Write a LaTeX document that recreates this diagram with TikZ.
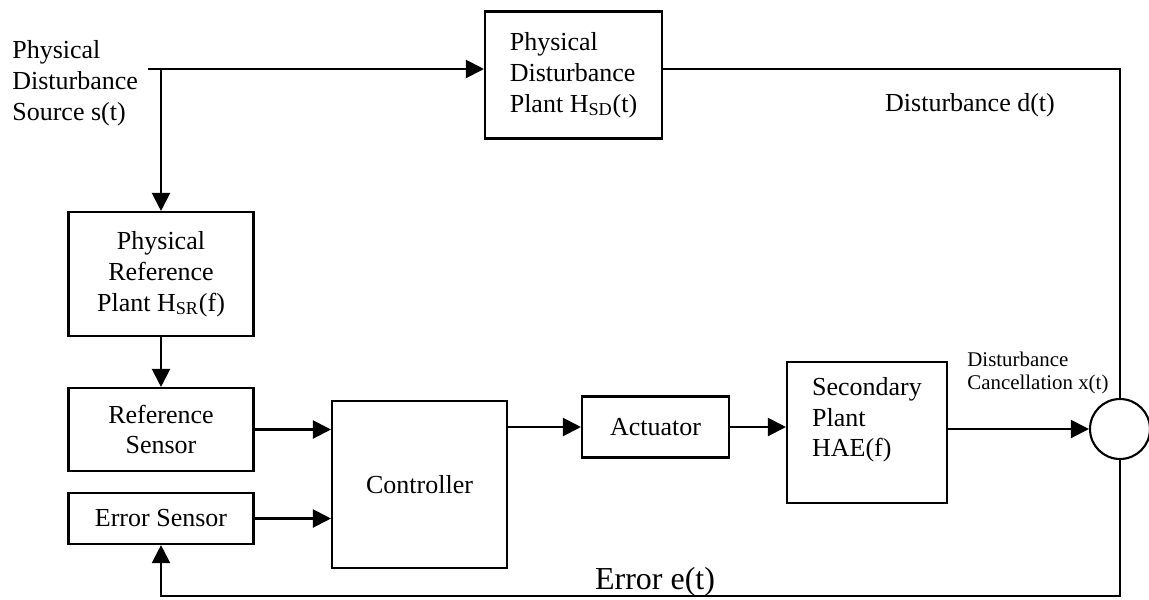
\documentclass[tikz,border=0pt]{standalone}
\usepackage{fontspec}
\setmainfont{Liberation Serif}
\usepackage{tikz}
\usetikzlibrary{arrows.meta}
\usetikzlibrary{shapes,arrows}
\usetikzlibrary{calc}
\begin{document}
\begin{tikzpicture}[x=0.02cm,y=-0.02cm,font=\fontsize{14.8}{17.6}\selectfont]
\useasboundingbox (0,0) rectangle (1149,599);
%node styles
\tikzstyle{bloc}=[rectangle,draw,line width=1.2pt,inner sep=3pt]
\tikzstyle{somme}=[circle,draw,line width=1.2pt,minimum size=1.2cm,inner sep=0pt]
\tikzstyle{texte}=[inner sep=0pt,align=left]
%arrow styles
\tikzstyle{signal}=[-{Triangle[length=3.6mm,width=3.6mm]},line width=1.2pt]
\tikzstyle{fil}=[line width=1.2pt]
%node placement
\node[texte,anchor=west] (source) at (12,83) {Physical\\Disturbance\\Source s(t)};
\node[bloc,align=left,minimum width=3.54cm,minimum height=2.54cm] (hsd) at (573.5,75) {Physical\\Disturbance\\Plant H\textsubscript{SD}(t)};
\node[bloc,align=center,minimum width=3.7cm,minimum height=2.48cm] (hsr) at (161,274) {Physical\\Reference\\Plant H\textsubscript{SR}(f)};
\node[bloc,align=center,minimum width=3.7cm,minimum height=1.66cm] (refsens) at (161,429.5) {Reference\\Sensor};
\node[bloc,minimum width=3.7cm,minimum height=1.02cm] (errsens) at (161,518.5) {Error Sensor};
\node[bloc,minimum width=3.5cm,minimum height=3.34cm] (ctrl) at (419.5,484.5) {Controller};
\node[bloc,minimum width=2.94cm,minimum height=1.22cm] (act) at (655.5,427) {Actuator};
\node[bloc,align=left,minimum width=3.2cm,minimum height=2.82cm] (sec) at (867,432.5) {Secondary\\Plant\\HAE(f)\\\mbox{}};
\node[somme] (sum) at (1120,429) {};
\node[texte] (dist) at (970,105) {Disturbance d(t)};
\node[texte,anchor=west,font=\fontsize{11.9}{13.5}\selectfont] (cancel) at (967,373) {Disturbance\\Cancellation x(t)};
\node[texte,font=\fontsize{18.2}{21}\selectfont] (err) at (655,582) {Error e(t)};
\coordinate (start) at (148,69);
\coordinate (branch) at (hsr.north |- start);
\coordinate (corner) at (sum.south |- 0,596);
%arrow placement
\draw[fil] (start) -- (branch);
\draw[signal] (branch) -- (start -| hsd.west);
\draw[signal] (branch) -- (hsr.north);
\draw[fil] (start -| hsd.east) -| (sum.north);
\draw[signal] (hsr) -- (refsens);
\draw[signal] (refsens.east) -- (refsens.east -| ctrl.west);
\draw[signal] (errsens.east) -- (errsens.east -| ctrl.west);
\draw[signal] (ctrl.east |- act.west) -- (act.west);
\draw[signal] (act.east) -- (act.east -| sec.west);
\draw[signal] (sec.east |- sum.west) -- (sum.west);
\draw[signal] (sum.south) -- (corner) -| (errsens.south);
\end{tikzpicture}
\end{document}
